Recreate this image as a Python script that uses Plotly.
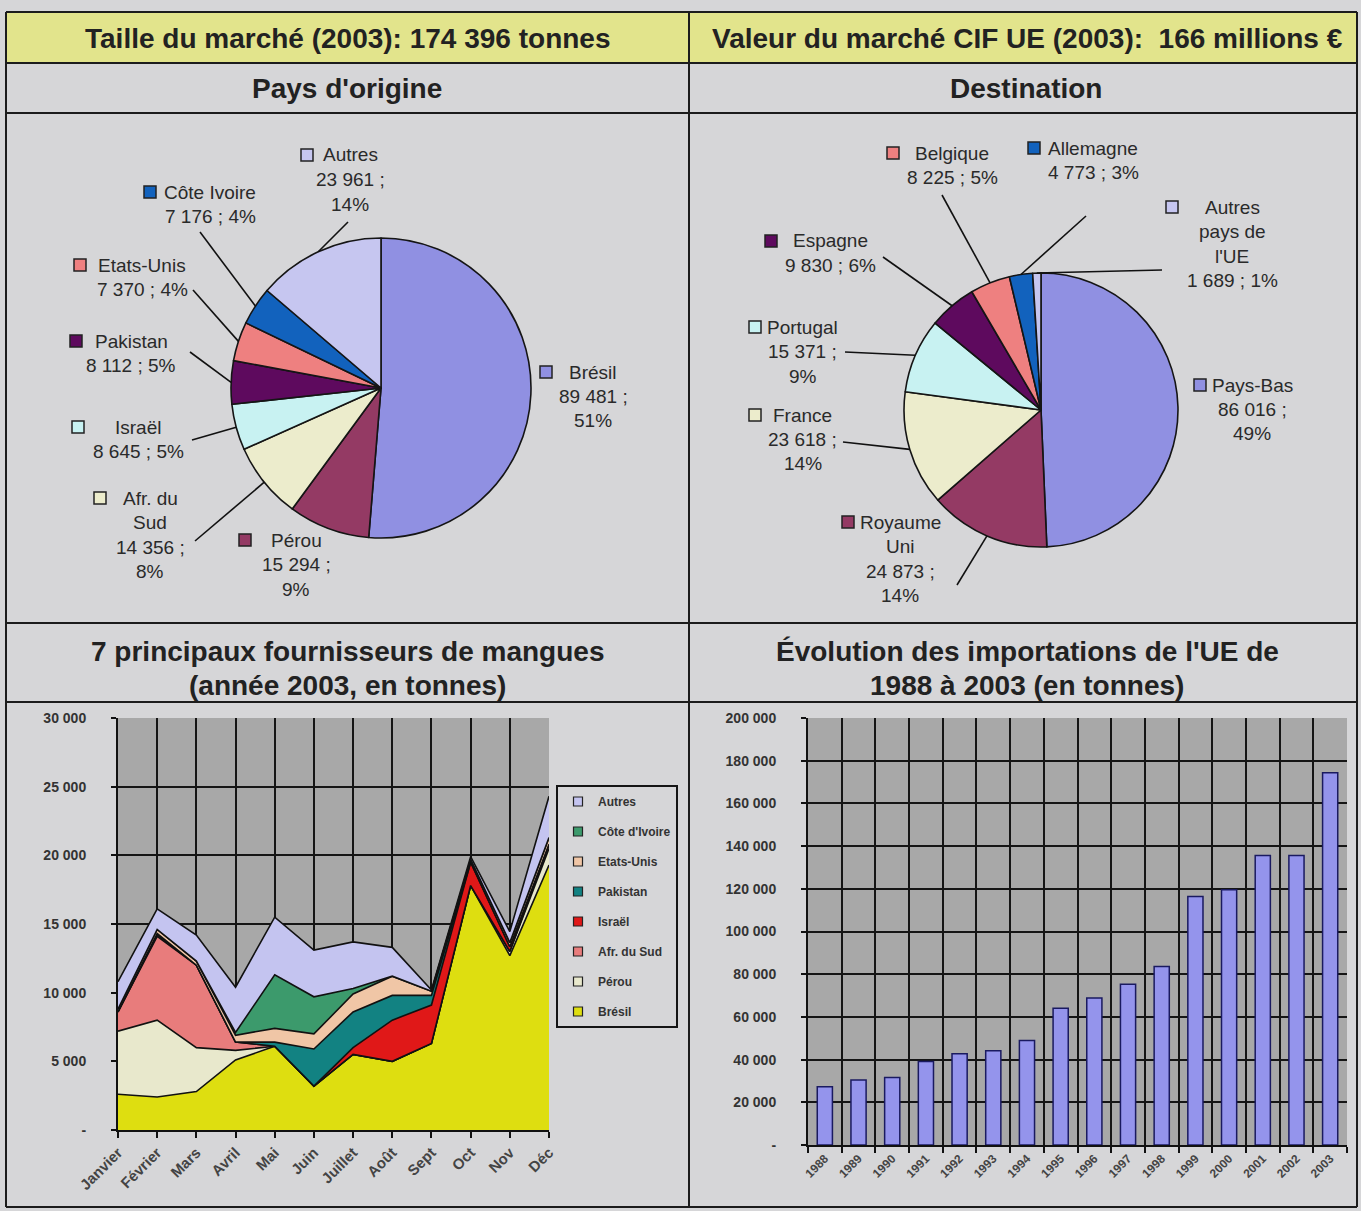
import math
import textwrap
import plotly.graph_objects as go

W, H = 1361, 1211
FONT = "Liberation Sans, Arial, sans-serif"

# ---------------- data ----------------
origin_names = ["Brésil", "Pérou", "Afr. du Sud", "Israël", "Pakistan", "Etats-Unis", "Côte Ivoire", "Autres"]
origin_values = [89481, 15294, 14356, 8645, 8112, 7370, 7176, 23961]

dest_names = ["Pays-Bas", "Royaume Uni", "France", "Portugal", "Espagne", "Belgique", "Allemagne", "Autres pays de l'UE"]
dest_values = [86016, 24873, 23618, 15371, 9830, 8225, 4773, 1689]

months = ["Janvier", "Février", "Mars", "Avril", "Mai", "Juin", "Juillet", "Août", "Sept", "Oct", "Nov", "Déc"]
bresil_m = [2600, 2400, 2800, 5100, 6100, 3200, 5500, 5000, 6300, 17800, 12700, 19300]
perou_m = [4600, 5600, 3200, 700, 0, 0, 0, 0, 0, 0, 300, 1200]
afsud_m = [1400, 6100, 6000, 600, 0, 0, 0, 0, 0, 0, 0, 300]
israel_m = [0, 100, 0, 0, 0, 0, 500, 3000, 2800, 1700, 345, 0]
pakistan_m = [0, 100, 0, 0, 300, 2700, 2600, 1800, 700, 0, 0, 0]
etatsunis_m = [200, 300, 300, 500, 1000, 1100, 1300, 1400, 300, 200, 300, 500]
cotedivoire_m = [0, 0, 0, 200, 3900, 2700, 400, 0, 0, 0, 0, 0]
autres_m = [2000, 1500, 1900, 3300, 4200, 3400, 3400, 2100, 100, 200, 800, 3000]

years = ["1988", "1989", "1990", "1991", "1992", "1993", "1994", "1995",
         "1996", "1997", "1998", "1999", "2000", "2001", "2002", "2003"]
imports = [27300, 30500, 31600, 39100, 42700, 44100, 48900, 64100,
           68800, 75300, 83600, 116400, 119500, 135600, 135600, 174396]

area_ytick_vals = [0, 5000, 10000, 15000, 20000, 25000, 30000]
area_ytick_text = ["-", "5 000", "10 000", "15 000", "20 000", "25 000", "30 000"]
bar_ytick_vals = [0, 20000, 40000, 60000, 80000, 100000, 120000, 140000, 160000, 180000, 200000]
bar_ytick_text = ["-", "20 000", "40 000", "60 000", "80 000", "100 000", "120 000",
                  "140 000", "160 000", "180 000", "200 000"]

# ---------------- styles ----------------
pie_colors = ["#9090e2", "#943a64", "#ececcc", "#c8f2f2", "#5e0a5e", "#ee8080", "#1262bd", "#c6c6f0"]
area_series = [
    ("Brésil", bresil_m, "#dede10"),
    ("Pérou", perou_m, "#e8e8cc"),
    ("Afr. du Sud", afsud_m, "#e87c7c"),
    ("Israël", israel_m, "#e01818"),
    ("Pakistan", pakistan_m, "#128282"),
    ("Etats-Unis", etatsunis_m, "#f0c6a6"),
    ("Côte d'Ivoire", cotedivoire_m, "#3c9a6c"),
    ("Autres", autres_m, "#c4c4f0"),
]


def X(px):
    return px / W


def Y(py):
    return 1 - py / H


fig = go.Figure()

# ---------------- pies ----------------
PIES = [
    dict(names=origin_names, values=origin_values, cx=381, cy=388, r=150,
         labels=[(546, 372, 593, 20, True, None),
                 (245, 540, 296, 20, True, None),
                 (100, 498, 150, 7, True, (195, 541)),
                 (78, 427, 138, 20, False, (192, 440)),
                 (76, 341, 131, 20, False, (190, 352)),
                 (80, 265, 142, 20, False, (193, 290)),
                 (150, 192, 210, 20, False, (200, 232)),
                 (307, 155, 350, 20, True, (348, 222))]),
    dict(names=dest_names, values=dest_values, cx=1041, cy=410, r=137,
         labels=[(1200, 385, 1252, 20, True, None),
                 (848, 522, 900, 7, True, (957, 585)),
                 (755, 415, 803, 20, True, (843, 442)),
                 (755, 327, 803, 20, True, (845, 352)),
                 (771, 241, 830, 20, False, (883, 257)),
                 (893, 153, 952, 20, False, (942, 195)),
                 (1034, 148, 1093, 20, False, (1086, 216)),
                 (1172, 207, 1232, 7, False, (1162, 270))]),
]

shapes = []
annotations = []
LINE_H = 24.5

for p in PIES:
    cx, cy, r = p["cx"], p["cy"], p["r"]
    fig.add_trace(go.Pie(
        labels=p["names"], values=p["values"], sort=False, direction="clockwise", rotation=0,
        marker=dict(colors=pie_colors, line=dict(color="#151515", width=1.6)),
        textinfo="none", showlegend=False, automargin=False,
        domain=dict(x=[X(cx - r), X(cx + r)], y=[Y(cy + r), Y(cy - r)]),
    ))
    total = sum(p["values"])
    cum = 0
    for name, v, col, (sx, sy, lcx, ww, split, lead) in zip(p["names"], p["values"], pie_colors, p["labels"]):
        mid = 2 * math.pi * (cum + v / 2) / total
        cum += v
        pct = round(100 * v / total)
        val = f"{v:,}".replace(",", " ")
        lines = textwrap.wrap(name, ww)
        if split:
            lines += [val + " ;", f"{pct}%"]
        else:
            lines += [f"{val} ; {pct}%"]
        for k, t in enumerate(lines):
            annotations.append(dict(x=X(lcx), y=Y(sy + k * LINE_H), xref="paper", yref="paper",
                                    text=t, showarrow=False, xanchor="center", yanchor="middle",
                                    font=dict(family=FONT, size=19, color="#2a2a2a")))
        shapes.append(dict(type="rect", xref="paper", yref="paper",
                           x0=X(sx - 6), x1=X(sx + 6), y0=Y(sy + 6), y1=Y(sy - 6),
                           fillcolor=col, line=dict(color="#222", width=1.5)))
        if lead is not None:
            ex = cx + r * math.sin(mid)
            ey = cy - r * math.cos(mid)
            shapes.append(dict(type="line", xref="paper", yref="paper",
                               x0=X(lead[0]), y0=Y(lead[1]), x1=X(ex), y1=Y(ey),
                               line=dict(color="#111", width=1.6)))

# ---------------- stacked area ----------------
n_series = len(area_series)
for i, (name, vals, col) in enumerate(area_series):
    fig.add_trace(go.Scatter(
        x=months, y=vals, name=name, legendgroup=name, showlegend=False,
        stackgroup="one", mode="lines",
        line=dict(color="#111", width=1.6), fillcolor=col, xaxis="x", yaxis="y",
    ))
    # legend key (square swatch, as in the original legend)
    fig.add_trace(go.Scatter(
        x=[None], y=[None], name=name, legendgroup=name, legendrank=100 + (n_series - i),
        mode="markers", xaxis="x", yaxis="y", hoverinfo="skip",
        marker=dict(symbol="square", size=9, color=col, line=dict(color="#222", width=1.2)),
    ))

# ---------------- bars ----------------
fig.add_trace(go.Bar(
    x=years, y=imports, width=0.45, showlegend=False, xaxis="x2", yaxis="y2",
    marker=dict(color="#9494ec", line=dict(color="#1a1a60", width=1.5)),
))

# ---------------- table frame ----------------
shapes.insert(0, dict(type="rect", xref="paper", yref="paper", layer="below",
                      x0=X(6), x1=X(1357), y0=Y(63), y1=Y(12),
                      fillcolor="#e2e48c", line=dict(width=0)))
for yy in [12, 63, 113, 623, 702, 1207]:
    shapes.append(dict(type="line", xref="paper", yref="paper", x0=X(6), x1=X(1357),
                       y0=Y(yy), y1=Y(yy), line=dict(color="#1c1c1c", width=2)))
for xx in [6, 689, 1357]:
    shapes.append(dict(type="line", xref="paper", yref="paper", x0=X(xx), x1=X(xx),
                       y0=Y(12), y1=Y(1207), line=dict(color="#1c1c1c", width=2)))

titles = [
    (347, 38, "Taille du marché (2003): 174 396 tonnes"),
    (1027, 38, "Valeur du marché CIF UE (2003):\u00a0 166 millions €"),
    (347, 88, "Pays d'origine"),
    (1026, 88, "Destination"),
    (347, 651, "7 principaux fournisseurs de mangues"),
    (347, 685, "(année 2003, en tonnes)"),
    (1027, 651, "Évolution des importations de l'UE de"),
    (1027, 685, "1988 à 2003 (en tonnes)"),
]
for tx, ty, t in titles:
    annotations.append(dict(x=X(tx), y=Y(ty), xref="paper", yref="paper", text=f"<b>{t}</b>",
                            showarrow=False, xanchor="center", yanchor="middle",
                            font=dict(family=FONT, size=28, color="#222")))

tickfont = dict(family=FONT, size=14, color="#333", weight="bold")
axis_common = dict(showgrid=True, gridcolor="#151515", gridwidth=2, showline=True, linecolor="#111",
                   linewidth=2, ticks="outside", tickcolor="#111", tickwidth=2, automargin=False)
fig.update_layout(
    width=W, height=H, autosize=False, margin=dict(l=0, r=0, t=0, b=0, pad=0, autoexpand=False),
    paper_bgcolor="#d6d6d8", plot_bgcolor="#a8a8a8",
    font=dict(family=FONT),
    shapes=shapes, annotations=annotations,
    xaxis=dict(domain=[X(118), X(549)], anchor="y", type="category", range=[0, 11], ticklen=6,
               tickangle=-45, tickfont=dict(family=FONT, size=15, color="#444", weight="bold"),
               **axis_common),
    yaxis=dict(domain=[Y(1130), Y(718)], anchor="x", range=[0, 30000],
               tickvals=area_ytick_vals, ticktext=area_ytick_text, ticklen=5,
               ticklabelstandoff=22, tickfont=tickfont, zeroline=False, **axis_common),
    xaxis2=dict(domain=[X(808), X(1347)], anchor="y2", type="category", tickson="boundaries",
                ticklen=6, tickangle=-45,
                tickfont=dict(family=FONT, size=12, color="#444", weight="bold"),
                **axis_common),
    yaxis2=dict(domain=[Y(1145), Y(718)], anchor="x2", range=[0, 200000],
                tickvals=bar_ytick_vals, ticktext=bar_ytick_text, ticklen=5,
                ticklabelstandoff=22, tickfont=tickfont, zeroline=False, **axis_common),
    legend=dict(x=X(556), y=Y(785), xanchor="left", yanchor="top",
                bgcolor="#d6d6d8", bordercolor="#151515", borderwidth=2,
                font=dict(family=FONT, size=12, color="#333", weight="bold"),
                traceorder="grouped", tracegroupgap=11, itemwidth=30),
)

fig.write_html("out.html", config={"displayModeBar": False},
               post_script="document.body.style.margin='0px';")
